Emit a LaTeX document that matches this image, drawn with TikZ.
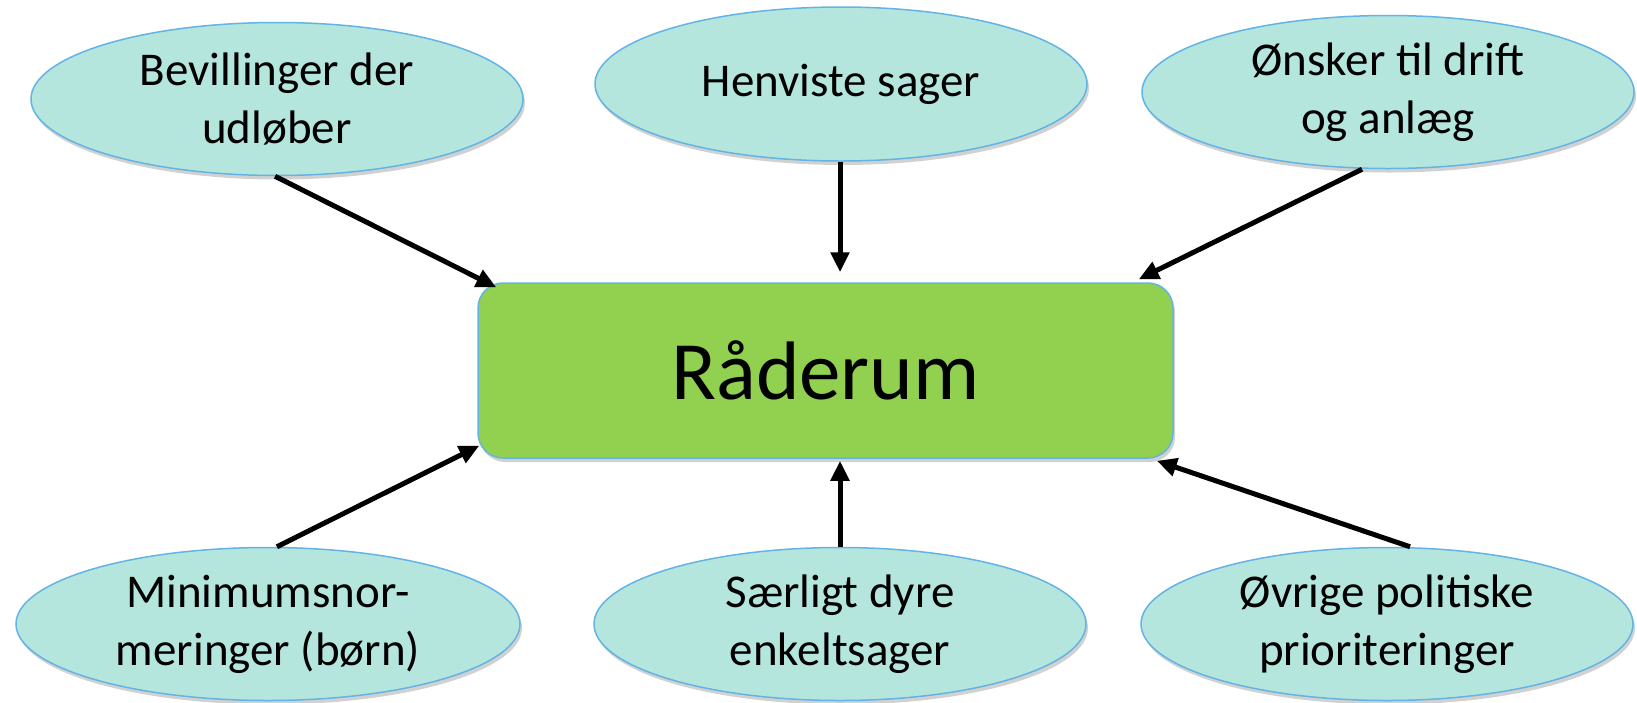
\documentclass[tikz,border=0pt]{standalone}
\usepackage{fontspec}
\setmainfont{Carlito}
\usetikzlibrary{shapes.geometric,arrows.meta,shadows}
\definecolor{ellfill}{HTML}{B4E6DE}
\definecolor{edgeblue}{HTML}{63B4E4}
\definecolor{boxgreen}{HTML}{92D050}
\begin{document}
\begin{tikzpicture}[x=1pt,y=-1pt,
  bubble/.style={ellipse, draw=edgeblue, line width=1.5pt, fill=ellfill,
    inner sep=0pt, align=center, minimum width=492pt, minimum height=153pt,
    font=\fontsize{47}{58}\selectfont,
    drop shadow={shadow xshift=2pt, shadow yshift=-4pt, opacity=0.18, fill=black}},
  centerbox/.style={rectangle, rounded corners=25pt, draw=edgeblue, line width=1.5pt,
    fill=boxgreen, minimum width=695pt, minimum height=175pt, inner sep=0pt,
    font=\fontsize{83}{98}\selectfont,
    drop shadow={shadow xshift=2pt, shadow yshift=-4pt, opacity=0.18, fill=black}},
  feed/.style={line width=5pt, -{Triangle[length=20pt,width=18pt]}}
]
\useasboundingbox (0,0) rectangle (1637,702);
\fill[white] (0,0) rectangle (1637,702);

\node[centerbox] (r) at (825.5,370.5) {Råderum};

\node[bubble] (tl) at (277,99) {Bevillinger der\\udløber};
\node[bubble, minimum height=154pt] (tm) at (841,84) {Henviste sager};
\node[bubble] (tr) at (1388,92) {Ønsker til drift\\og anlæg};
\node[bubble, minimum width=504pt] (bl) at (268,624) {Minimumsnor-\\meringer (børn)};
\node[bubble] (bm) at (840,624) {Særligt dyre\\enkeltsager};
\node[bubble] (br) at (1387,624) {Øvrige politiske\\prioriteringer};

\draw[feed] ([xshift=-2pt]tl.south) -- ([shift={(19,5)}]r.north west);
\draw[feed] ([xshift=-1pt]tm.south) -- ([shift={(14.5,-10)}]r.north);
\draw[feed] ([xshift=-26pt]tr.south) -- ([shift={(-35,-3)}]r.north east);
\draw[feed] ([xshift=9pt]bl.north) -- ([shift={(2,-13)}]r.south west);
\draw[feed] (bm.north) -- ([shift={(14.5,2)}]r.south);
\draw[feed] ([xshift=23pt]br.north) -- ([shift={(-17,2)}]r.south east);
\end{tikzpicture}
\end{document}
